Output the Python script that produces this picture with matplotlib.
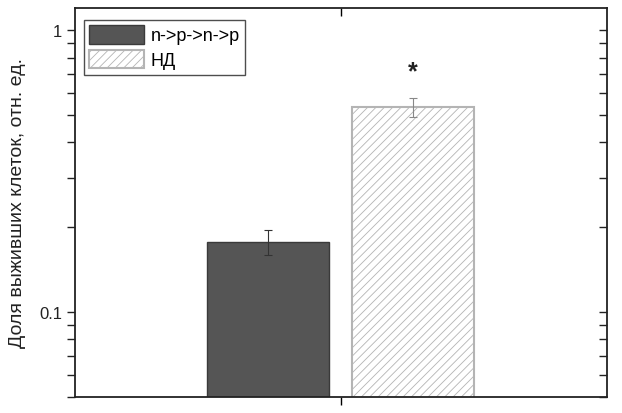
import matplotlib
matplotlib.use("Agg")
import matplotlib.pyplot as plt
from matplotlib.ticker import LogLocator, NullFormatter, FixedLocator, FixedFormatter

plt.rcParams['font.family'] = ['Liberation Sans', 'DejaVu Sans']
plt.rcParams['hatch.linewidth'] = 0.6

# data
labels = ['n->p->n->p', 'НД']
values = [0.177, 0.533]
errors = [0.018, 0.040]
positions = [0.363, 0.635]
ylabel = 'Доля выживших клеток, отн. ед.'

fig = plt.figure(figsize=(6.22, 4.14), dpi=100)
ax = fig.add_axes([75 / 622, 1 - 398 / 414, 532 / 622, 389 / 414])

width = 0.229
ax.bar(positions[0], values[0], width, color='#555555', edgecolor='#3a3a3a',
       linewidth=1.0, label=labels[0], zorder=2)
ax.bar(positions[1], values[1], width, color='white', edgecolor='#b4b4b4',
       hatch='////', linewidth=1.5, label=labels[1], zorder=2)
ax.errorbar(positions[0], values[0], yerr=errors[0], fmt='none', ecolor='#333333',
            elinewidth=0.8, capsize=3, capthick=0.8, zorder=3)
ax.errorbar(positions[1], values[1], yerr=errors[1], fmt='none', ecolor='#888888',
            elinewidth=0.8, capsize=3, capthick=0.8, zorder=3)

ax.text(positions[1], 0.715, '*', ha='center', va='center', fontsize=18,
        fontweight='bold', color='#222222')

ax.set_yscale('log')
ax.set_ylim(0.05, 1.2)
ax.set_xlim(0, 1)

ax.yaxis.set_major_locator(FixedLocator([0.1, 1]))
ax.yaxis.set_major_formatter(FixedFormatter(['0.1', '1']))
ax.yaxis.set_minor_locator(LogLocator(base=10, subs=range(2, 10)))
ax.yaxis.set_minor_formatter(NullFormatter())
ax.set_xticks([0.5])
ax.set_xticklabels([''])

ax.tick_params(axis='y', which='both', direction='out', length=5.5, width=1.0,
               labelsize=12, colors='#222222', right=True)
ax.tick_params(axis='x', direction='out', length=5.5, width=1.0, top=True)

# mirrored ticks point inward
for t in ax.yaxis.get_major_ticks() + ax.yaxis.get_minor_ticks():
    t.tick2line.set_marker(matplotlib.lines.TICKLEFT)
for t in ax.xaxis.get_major_ticks():
    t.tick2line.set_marker(matplotlib.lines.TICKDOWN)

for s in ax.spines.values():
    s.set_linewidth(1.3)
    s.set_color('#222222')

ax.set_ylabel(ylabel, fontsize=14, color='#222222', labelpad=10)

leg = ax.legend(loc='upper left', bbox_to_anchor=(0.017, 0.97), fontsize=13,
                frameon=True, fancybox=False, edgecolor='#222222',
                handlelength=3.0, handleheight=1.2, borderpad=0.3,
                labelspacing=0.3, handletextpad=0.4, borderaxespad=0)
leg.get_frame().set_linewidth(1.0)

fig.savefig('out.png', dpi=100)
